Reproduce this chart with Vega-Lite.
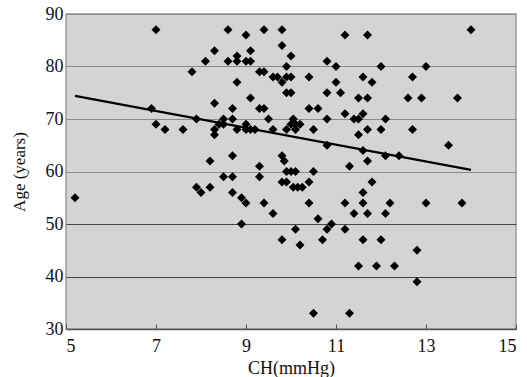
{
  "$schema": "https://vega.github.io/schema/vega-lite/v6.json",
  "width": 450,
  "height": 315,
  "autosize": {"type": "none"},
  "padding": {"left": 66, "top": 14, "right": 11, "bottom": 48},
  "background": "white",
  "config": {
    "view": {"fill": "#d4d4d4", "stroke": "#9a9a9a", "strokeWidth": 1.5},
    "font": "Liberation Serif"
  },
  "datasets": {
    "pts": [
      {"ch": 5.2, "age": 55}, {"ch": 6.9, "age": 72}, {"ch": 7.0, "age": 87}, {"ch": 7.0, "age": 69},
      {"ch": 7.2, "age": 68}, {"ch": 7.6, "age": 68}, {"ch": 7.8, "age": 79}, {"ch": 7.9, "age": 70},
      {"ch": 7.9, "age": 57}, {"ch": 8.0, "age": 56}, {"ch": 8.1, "age": 81}, {"ch": 8.2, "age": 57},
      {"ch": 8.2, "age": 62}, {"ch": 8.3, "age": 83}, {"ch": 8.3, "age": 73}, {"ch": 8.3, "age": 68},
      {"ch": 8.3, "age": 67}, {"ch": 8.4, "age": 69}, {"ch": 8.5, "age": 70}, {"ch": 8.5, "age": 69},
      {"ch": 8.5, "age": 59}, {"ch": 8.6, "age": 87}, {"ch": 8.6, "age": 81}, {"ch": 8.7, "age": 72},
      {"ch": 8.7, "age": 70}, {"ch": 8.7, "age": 63}, {"ch": 8.7, "age": 59}, {"ch": 8.7, "age": 56},
      {"ch": 8.8, "age": 82}, {"ch": 8.8, "age": 81}, {"ch": 8.8, "age": 77}, {"ch": 8.8, "age": 68},
      {"ch": 8.9, "age": 55}, {"ch": 8.9, "age": 50}, {"ch": 9.0, "age": 86}, {"ch": 9.0, "age": 81},
      {"ch": 9.0, "age": 69}, {"ch": 9.0, "age": 68}, {"ch": 9.0, "age": 54}, {"ch": 9.1, "age": 83},
      {"ch": 9.1, "age": 81}, {"ch": 9.1, "age": 74}, {"ch": 9.1, "age": 68}, {"ch": 9.2, "age": 68},
      {"ch": 9.3, "age": 79}, {"ch": 9.3, "age": 72}, {"ch": 9.3, "age": 61}, {"ch": 9.3, "age": 59},
      {"ch": 9.4, "age": 87}, {"ch": 9.4, "age": 79}, {"ch": 9.4, "age": 72}, {"ch": 9.4, "age": 54},
      {"ch": 9.5, "age": 70}, {"ch": 9.6, "age": 78}, {"ch": 9.6, "age": 68}, {"ch": 9.6, "age": 52},
      {"ch": 9.7, "age": 78}, {"ch": 9.8, "age": 87}, {"ch": 9.8, "age": 84}, {"ch": 9.8, "age": 77},
      {"ch": 9.8, "age": 63}, {"ch": 9.8, "age": 58}, {"ch": 9.8, "age": 47}, {"ch": 9.9, "age": 80},
      {"ch": 9.9, "age": 78}, {"ch": 9.9, "age": 75}, {"ch": 9.9, "age": 68}, {"ch": 9.85, "age": 62},
      {"ch": 9.9, "age": 60}, {"ch": 9.9, "age": 58}, {"ch": 10.0, "age": 82}, {"ch": 10.0, "age": 78},
      {"ch": 10.0, "age": 75}, {"ch": 10.0, "age": 60}, {"ch": 10.0, "age": 69}, {"ch": 10.05, "age": 70},
      {"ch": 10.1, "age": 68}, {"ch": 10.1, "age": 69}, {"ch": 10.2, "age": 69}, {"ch": 10.1, "age": 60},
      {"ch": 10.05, "age": 57}, {"ch": 10.15, "age": 57}, {"ch": 10.25, "age": 57}, {"ch": 10.1, "age": 49},
      {"ch": 10.2, "age": 46}, {"ch": 10.4, "age": 78}, {"ch": 10.4, "age": 72}, {"ch": 10.4, "age": 58},
      {"ch": 10.4, "age": 54}, {"ch": 10.5, "age": 68}, {"ch": 10.5, "age": 60}, {"ch": 10.5, "age": 33},
      {"ch": 10.6, "age": 72}, {"ch": 10.6, "age": 51}, {"ch": 10.7, "age": 47}, {"ch": 10.8, "age": 81},
      {"ch": 10.8, "age": 75}, {"ch": 10.8, "age": 70}, {"ch": 10.8, "age": 65}, {"ch": 10.8, "age": 49},
      {"ch": 10.9, "age": 50}, {"ch": 11.0, "age": 80}, {"ch": 11.0, "age": 77}, {"ch": 11.1, "age": 75},
      {"ch": 11.2, "age": 86}, {"ch": 11.2, "age": 71}, {"ch": 11.2, "age": 54}, {"ch": 11.2, "age": 49},
      {"ch": 11.3, "age": 61}, {"ch": 11.3, "age": 33}, {"ch": 11.4, "age": 70}, {"ch": 11.4, "age": 52},
      {"ch": 11.5, "age": 70}, {"ch": 11.5, "age": 74}, {"ch": 11.5, "age": 67}, {"ch": 11.5, "age": 42},
      {"ch": 11.6, "age": 78}, {"ch": 11.6, "age": 71}, {"ch": 11.6, "age": 64}, {"ch": 11.6, "age": 56},
      {"ch": 11.6, "age": 54}, {"ch": 11.6, "age": 47}, {"ch": 11.7, "age": 86}, {"ch": 11.7, "age": 74},
      {"ch": 11.7, "age": 68}, {"ch": 11.7, "age": 62}, {"ch": 11.7, "age": 52}, {"ch": 11.8, "age": 77},
      {"ch": 11.8, "age": 58}, {"ch": 11.9, "age": 42}, {"ch": 12.0, "age": 80}, {"ch": 12.0, "age": 68},
      {"ch": 12.0, "age": 47}, {"ch": 12.1, "age": 70}, {"ch": 12.1, "age": 63}, {"ch": 12.1, "age": 52},
      {"ch": 12.2, "age": 54}, {"ch": 12.3, "age": 42}, {"ch": 12.4, "age": 63}, {"ch": 12.6, "age": 74},
      {"ch": 12.7, "age": 78}, {"ch": 12.7, "age": 68}, {"ch": 12.8, "age": 45}, {"ch": 12.8, "age": 39},
      {"ch": 12.9, "age": 74}, {"ch": 13.0, "age": 80}, {"ch": 13.0, "age": 54}, {"ch": 13.5, "age": 65},
      {"ch": 13.7, "age": 74}, {"ch": 13.8, "age": 54}, {"ch": 14.0, "age": 87}
    ],
    "trend": [
      {"ch": 5.2, "age": 74.4},
      {"ch": 14.0, "age": 60.3}
    ]
  },
  "encoding": {
    "x": {
      "field": "ch", "type": "quantitative",
      "scale": {"domain": [5, 15], "nice": false, "zero": false},
      "axis": {
        "values": [5, 7, 9, 11, 13, 15],
        "title": "CH(mmHg)",
        "titleFont": "Liberation Serif", "titleFontSize": 18, "titleFontWeight": "normal",
        "titleColor": "#111", "titlePadding": 4,
        "labelFont": "Liberation Serif", "labelFontSize": 18, "labelColor": "#111",
        "labelPadding": 13,
        "tickSize": -5, "tickColor": "#555",
        "domainColor": "#555", "domainWidth": 1.5,
        "grid": false
      }
    },
    "y": {
      "field": "age", "type": "quantitative",
      "scale": {"domain": [30, 90], "nice": false, "zero": false},
      "axis": {
        "values": [30, 40, 50, 60, 70, 80, 90],
        "title": "Age (years)",
        "titleFont": "Liberation Serif", "titleFontSize": 17, "titleFontWeight": "normal",
        "titleColor": "#111", "titlePadding": 17,
        "labelFont": "Liberation Serif", "labelFontSize": 18, "labelColor": "#111",
        "labelPadding": 3,
        "ticks": false, "domain": false,
        "grid": true,
        "gridColor": {"condition": {"test": "datum.value <= 50", "value": "#444"}, "value": "#8a8a8a"},
        "gridWidth": 1.2
      }
    }
  },
  "layer": [
    {
      "data": {"name": "pts"},
      "mark": {"type": "point", "shape": "diamond", "filled": true, "color": "#000", "size": 80, "opacity": 1}
    },
    {
      "data": {"name": "trend"},
      "mark": {"type": "line", "color": "#000", "strokeWidth": 2.2}
    }
  ]
}
